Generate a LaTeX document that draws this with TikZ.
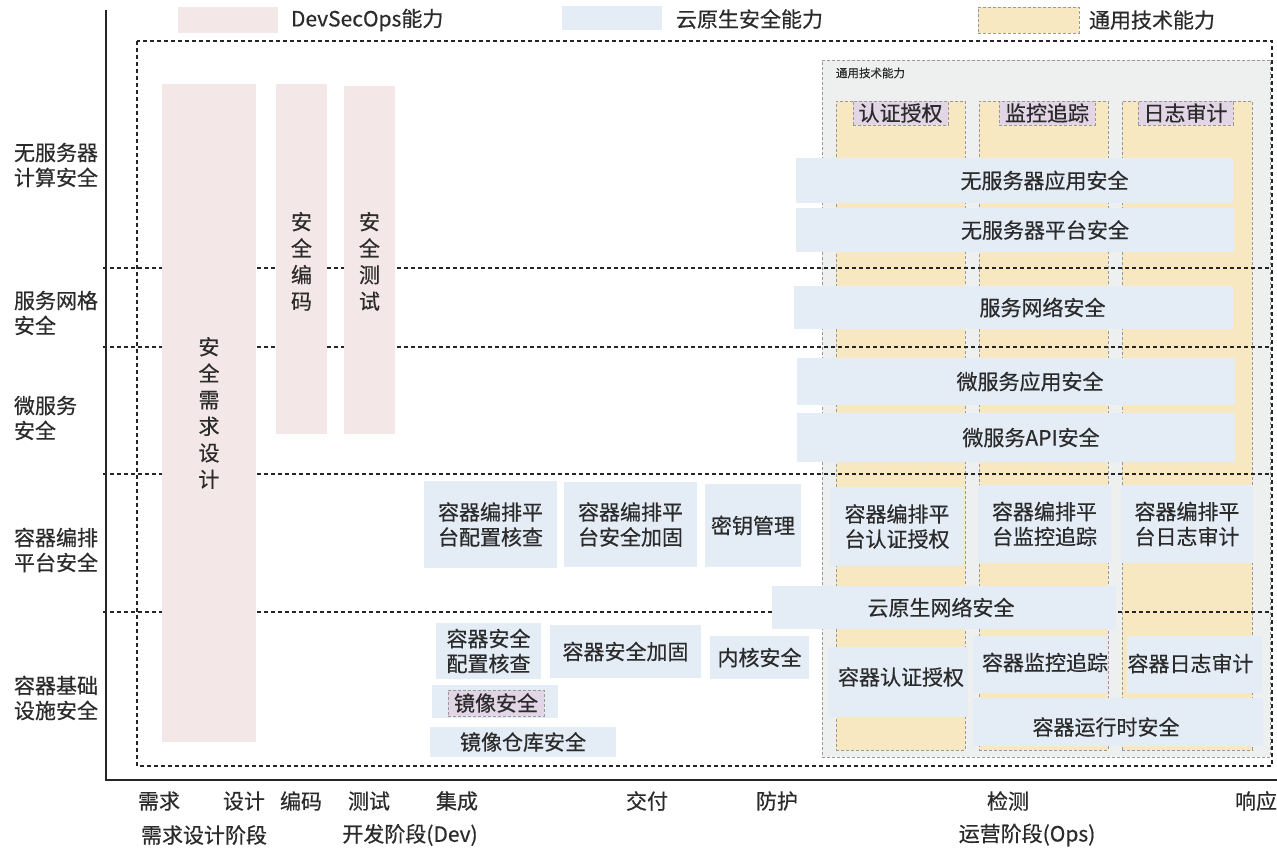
\documentclass[tikz,border=0pt]{standalone}
\usepackage{fontspec}
\setmainfont{Noto Sans CJK SC}[FakeBold=0.5]
\definecolor{cpink}{HTML}{F4E7E7}
\definecolor{cblue}{HTML}{E4ECF6}
\definecolor{cyel}{HTML}{F8E8C2}
\definecolor{cpur}{HTML}{E2D6E6}
\definecolor{cgrey}{HTML}{EEEFEF}
\definecolor{txt}{HTML}{2B2B2B}
\newcommand\rbox[7]{\node[#6, minimum width={(#4-#2)*1pt}, minimum height={(#5-#3)*1pt}] (#1) at ({(#2+#4)/2},{(#3+#5)/2}) {#7};}
\newcommand\rboxt[9]{\node[#6, minimum width={(#4-#2)*1pt}, minimum height={(#5-#3)*1pt}] (#1) at ({(#2+#4)/2},{(#3+#5)/2}) {};
  \node[base] (#1t) at ([xshift=#7pt,yshift=#8pt]#1.center) {#9};}
\tikzset{
  base/.style={inner sep=0pt, outer sep=0pt, text=txt, align=center, font=\fontsize{21}{25}\selectfont},
  bluebox/.style={base, fill=cblue},
  pinkbox/.style={base, fill=cpink, font=\fontsize{21}{26.5}\selectfont},
  yelcol/.style={base, fill=cyel, draw=gray!80, line width=0.8pt, dash pattern=on 3pt off 2pt},
  purtag/.style={base, fill=cpur, draw=gray!80, line width=0.8pt, dash pattern=on 3pt off 2pt},
  greypanel/.style={base, fill=cgrey, draw=gray!80, line width=0.8pt, dash pattern=on 3pt off 2pt},
  sepline/.style={draw=black!85, line width=1.3pt, dash pattern=on 4pt off 3pt},
  outerline/.style={draw=black!85, line width=1.8pt, dash pattern=on 4pt off 3pt},
  lbl/.style={base},
}
\begin{document}
\begin{tikzpicture}[x=1pt,y=-1pt]
\useasboundingbox[fill=white] (0,0) rectangle (1277,850);

% legend
\rbox{lgp}{178}{7}{278}{33}{pinkbox}{}
\node[lbl, anchor=west] (lgpt) at (291,20) {DevSecOps能力};
\rbox{lgb}{562}{6}{662}{30}{bluebox}{}
\node[lbl, anchor=west] (lgbt) at (676,19) {云原生安全能力};
\rbox{lgy}{978}{7}{1079}{33}{yelcol}{}
\node[lbl, anchor=west] (lgyt) at (1089,20) {通用技术能力};

% grey panel and yellow columns
\rbox{gp}{822}{60}{1270}{757}{greypanel}{}
\node[base, font=\fontsize{11.5}{12}\selectfont, anchor=west] (gpt) at (836,73) {通用技术能力};
\rbox{c1}{836}{101}{965}{750}{yelcol}{}
\rbox{c2}{979}{101}{1108}{750}{yelcol}{}
\rbox{c3}{1122}{101}{1252}{750}{yelcol}{}
\rbox{t1}{853}{101}{948}{125}{purtag}{认证授权}
\rbox{t2}{999}{101}{1095}{125}{purtag}{监控追踪}
\rbox{t3}{1138}{101}{1233}{125}{purtag}{日志审计}

% separators
\coordinate (s1a) at (103,268); \coordinate (s1b) at (1272,268);
\coordinate (s2a) at (103,347); \coordinate (s2b) at (1272,347);
\coordinate (s3a) at (103,474); \coordinate (s3b) at (1272,474);
\coordinate (s4a) at (103,612); \coordinate (s4b) at (1272,612);
\draw[sepline] (s1a) -- (s1b);
\draw[sepline] (s2a) -- (s2b);
\draw[sepline] (s3a) -- (s3b);
\draw[sepline] (s4a) -- (s4b);
\coordinate (o1) at (137,41); \coordinate (o2) at (1272,766);
\draw[outerline] (o1) rectangle (o2);

% axes
\coordinate (ax0) at (106,10); \coordinate (ax1) at (106,780); \coordinate (ax2) at (1277,780);
\draw[black!85, line width=2pt] (ax0) -- (ax1) -- (ax2);

% pink bars
\rbox{p1}{162}{84}{256}{742}{pinkbox}{安\\全\\需\\求\\设\\计}
\rbox{p2}{276}{84}{327}{434}{pinkbox}{}
\node[pinkbox, fill=none, anchor=north] (p2t) at (301.5,212) {安\\全\\编\\码};
\rbox{p3}{344}{86}{395}{434}{pinkbox}{}
\node[pinkbox, fill=none, anchor=north] (p3t) at (369.5,212) {安\\全\\测\\试};

% blue boxes, upper
\rboxt{b1}{796}{158}{1233}{203}{bluebox}{30}{0}{无服务器应用安全}
\rboxt{b2}{796}{208}{1234}{252}{bluebox}{30}{0}{无服务器平台安全}
\rboxt{b3}{794}{286}{1233}{329}{bluebox}{29}{0}{服务网络安全}
\rboxt{b4}{797}{358}{1235}{405}{bluebox}{14}{0}{微服务应用安全}
\rboxt{b5}{797}{413}{1235}{462}{bluebox}{15}{0}{微服务API安全}

% orchestration row
\rbox{o11}{424}{481}{557}{568}{bluebox}{容器编排平\\台配置核查}
\rbox{o12}{564}{482}{697}{567}{bluebox}{容器编排平\\台安全加固}
\rbox{o13}{705}{484}{801}{567}{bluebox}{密钥管理}
\rbox{o14}{830}{487}{964}{566}{bluebox}{容器编排平\\台认证授权}
\rbox{o15}{978}{485}{1111}{563}{bluebox}{容器编排平\\台监控追踪}
\rbox{o16}{1121}{485}{1253}{563}{bluebox}{容器编排平\\台日志审计}
\rboxt{net}{772}{586}{1116}{629}{bluebox}{-3}{0}{云原生网络安全}

% infrastructure row
\rbox{i1}{436}{623}{541}{679}{bluebox}{容器安全\\配置核查}
\rbox{i2}{550}{625}{701}{678}{bluebox}{容器安全加固}
\rbox{i3}{710}{636}{809}{679}{bluebox}{内核安全}
\rbox{i4}{432}{685}{558}{718}{bluebox}{}
\rbox{i4t}{448}{690}{544}{716}{purtag}{镜像安全}
\rbox{i5}{430}{727}{616}{757}{bluebox}{镜像仓库安全}
\rboxt{i6}{828}{647}{968}{717}{bluebox}{3}{5}{容器认证授权}
\rboxt{i7}{973}{636}{1107}{693}{bluebox}{5}{2}{容器监控追踪}
\rboxt{i8}{1127}{636}{1262}{693}{bluebox}{-4}{1}{容器日志审计}
\rboxt{i9}{973}{698}{1263}{746}{bluebox}{-12}{-5}{容器运行时安全}

% left labels
\node[lbl, anchor=west, align=left] (l1) at (14,165) {无服务器\\计算安全};
\node[lbl, anchor=west, align=left] (l2) at (14,313) {服务网格\\安全};
\node[lbl, anchor=west, align=left] (l3) at (14,418) {微服务\\安全};
\node[lbl, anchor=west, align=left] (l4) at (14,550) {容器编排\\平台安全};
\node[lbl, anchor=west, align=left] (l5) at (14,698) {容器基础\\设施安全};

% bottom labels
\node[lbl] (x1) at (159,801) {需求};
\node[lbl] (x2) at (244,801) {设计};
\node[lbl] (x3) at (301,801) {编码};
\node[lbl] (x4) at (369,801) {测试};
\node[lbl] (x5) at (457,801) {集成};
\node[lbl] (x6) at (647,801) {交付};
\node[lbl] (x7) at (777,801) {防护};
\node[lbl] (x8) at (1008,801) {检测};
\node[lbl] (x9) at (1256,801) {响应};
\node[lbl] (y1) at (204,835) {需求设计阶段};
\node[lbl] (y2) at (410,835) {开发阶段(Dev)};
\node[lbl] (y3) at (1027,835) {运营阶段(Ops)};
\end{tikzpicture}
\end{document}
